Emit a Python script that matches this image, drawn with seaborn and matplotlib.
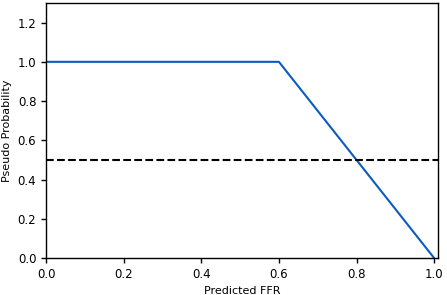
import matplotlib
matplotlib.use("Agg")
import matplotlib.pyplot as plt
import seaborn as sns
import pandas as pd

ffr = [0.0, 0.6, 1.0]
prob = [1.0, 1.0, 0.0]
threshold = 0.5

sns.set_style("ticks")
plt.rcParams['font.family'] = ['DejaVu Sans']
plt.rcParams['text.color'] = 'black'
plt.rcParams['axes.labelcolor'] = 'black'
plt.rcParams['xtick.color'] = 'black'
plt.rcParams['ytick.color'] = 'black'

fig, ax = plt.subplots(figsize=(4.47, 2.95), dpi=100)
df = pd.DataFrame({"ffr": ffr, "prob": prob})
sns.lineplot(data=df, x="ffr", y="prob", ax=ax, color="#0a5cc0", linewidth=1.5)
ax.axhline(threshold, color="black", linestyle="--", linewidth=1.5)
ax.set_xlim(0, 1.01)
ax.set_ylim(0, 1.3)
ax.set_xticks([0, 0.2, 0.4, 0.6, 0.8, 1.0])
ax.set_yticks([0, 0.2, 0.4, 0.6, 0.8, 1.0, 1.2])
ax.set_xlabel("Predicted FFR", fontsize=8)
ax.set_ylabel("Pseudo Probability", fontsize=8)
ax.tick_params(labelsize=8.5, width=1, length=3.5)
for s in ax.spines.values():
    s.set_linewidth(1)
    s.set_color("black")
fig.subplots_adjust(left=0.103, right=0.98, top=0.99, bottom=0.125)
fig.savefig("out.png", dpi=100)
